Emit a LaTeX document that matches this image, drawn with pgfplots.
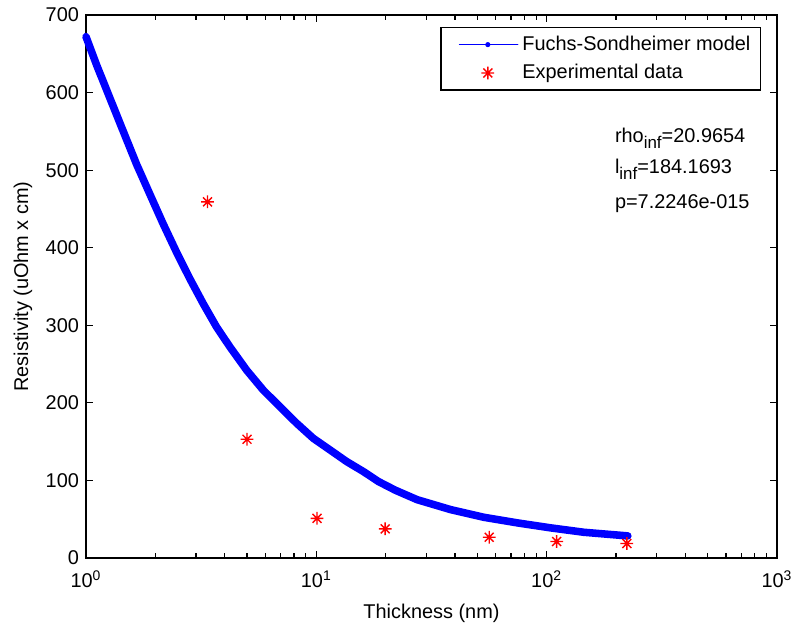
\documentclass[border=0pt]{standalone}
\usepackage{fontspec}
\setmainfont{Liberation Sans}
\usepackage{pgfplots}
\pgfplotsset{compat=1.18}

% matlab style '*' marker: plus and cross on top of each other
\pgfdeclareplotmark{mstar}{%
  \pgfpathmoveto{\pgfqpoint{-\pgfplotmarksize}{0pt}}%
  \pgfpathlineto{\pgfqpoint{\pgfplotmarksize}{0pt}}%
  \pgfpathmoveto{\pgfqpoint{0pt}{-\pgfplotmarksize}}%
  \pgfpathlineto{\pgfqpoint{0pt}{\pgfplotmarksize}}%
  \pgfpathmoveto{\pgfqpoint{-0.7\pgfplotmarksize}{-0.7\pgfplotmarksize}}%
  \pgfpathlineto{\pgfqpoint{0.7\pgfplotmarksize}{0.7\pgfplotmarksize}}%
  \pgfpathmoveto{\pgfqpoint{-0.7\pgfplotmarksize}{0.7\pgfplotmarksize}}%
  \pgfpathlineto{\pgfqpoint{0.7\pgfplotmarksize}{-0.7\pgfplotmarksize}}%
  \pgfusepathqstroke}

\newcommand{\sub}[1]{\raisebox{-0.32em}{\fontsize{8.5}{10}\selectfont #1}}

\begin{document}
\begin{tikzpicture}
\useasboundingbox (-1.518cm,-1.200cm) rectangle (12.443cm,9.849cm);
\begin{axis}[
    at={(0,0)}, anchor=south west,
    scale only axis,
    width=12.196cm, height=9.584cm,
    xmode=log,
    xmin=1, xmax=1000,
    ymin=0, ymax=700,
    clip=false,
    xtick={1,10,100,1000},
    xticklabels={10\textsuperscript{0},10\textsuperscript{1},10\textsuperscript{2},10\textsuperscript{3}},
    xticklabel style={yshift=-3pt},
    ytick={0,100,...,700},
    /pgf/number format/assume math mode=true,
    tick align=inside,
    major tick length=0.12cm,
    minor tick length=0.09cm,
    axis line style={line width=0.6pt},
    every tick/.style={black, line width=0.6pt},
    xlabel={Thickness (nm)},
    ylabel={Resistivity (uOhm x cm)},
    xlabel style={at={(axis description cs:0.5,-0.1105)}, anchor=base},
    ylabel style={at={(axis description cs:-0.0839,0.5)}, anchor=base},
    legend cell align=left,
    legend style={at={(axis description cs:0.9768,0.978)}, anchor=north east,
        draw=black, line width=0.6pt, fill=white,
        inner xsep=3pt, inner ysep=2.2pt, row sep=1.5pt},
]
\addplot[blue, line width=3.8pt, line cap=round, line join=round,
    legend image code/.code={
        \path[draw=none] (0cm,0cm) (1.25cm,0cm);
        \draw[blue, line width=0.6pt] (0.22cm,0cm) -- (1.25cm,0cm);
        \fill[blue, draw=none] (0.72cm,0cm) circle (1.3pt);}]
coordinates {
(1,672) (1.112,635.5) (1.271,592.6) (1.452,549.9) (1.66,507.2) (1.896,468.7)
(2.167,430.2) (2.476,393.8) (2.829,359.6) (3.232,327.6) (3.694,297.5) (4.221,271.9)
(4.987,242) (5.888,216.3) (6.956,194.9) (8.22,173.6) (9.7,154.3) (11.47,139.3)
(13.55,124.3) (16,111.5) (18.58,98.7) (22,87.5) (27.4,75.2) (38.3,62.4)
(53.4,52.5) (74.6,45.3) (104,38.9) (145,33.2) (225,28.5)
};
\addlegendentry{Fuchs-Sondheimer model}
\addplot[red, only marks, mark=mstar, mark size=3.2pt, line width=0.7pt,
    legend image code/.code={
        \path[draw=none] (0cm,0cm) (1.25cm,0cm);
        \draw[red, line width=0.7pt, only marks, mark=mstar, mark size=3.2pt]
            plot coordinates {(0.72cm,0cm)};}]
coordinates {
(3.37,459.2) (5.0,153.1) (10.07,51.2) (19.9,37.6) (56.3,26.8) (110.5,21.3) (222.8,18.7)
};
\addlegendentry{Experimental data}
\node[anchor=base west] at (axis description cs:0.7554,0.766) {rho\sub{inf}=20.9654};
\node[anchor=base west] at (axis description cs:0.7554,0.709) {l\sub{inf}=184.1693};
\node[anchor=base west] at (axis description cs:0.7554,0.643) {p=7.2246e-015};
\end{axis}
\end{tikzpicture}
\end{document}
